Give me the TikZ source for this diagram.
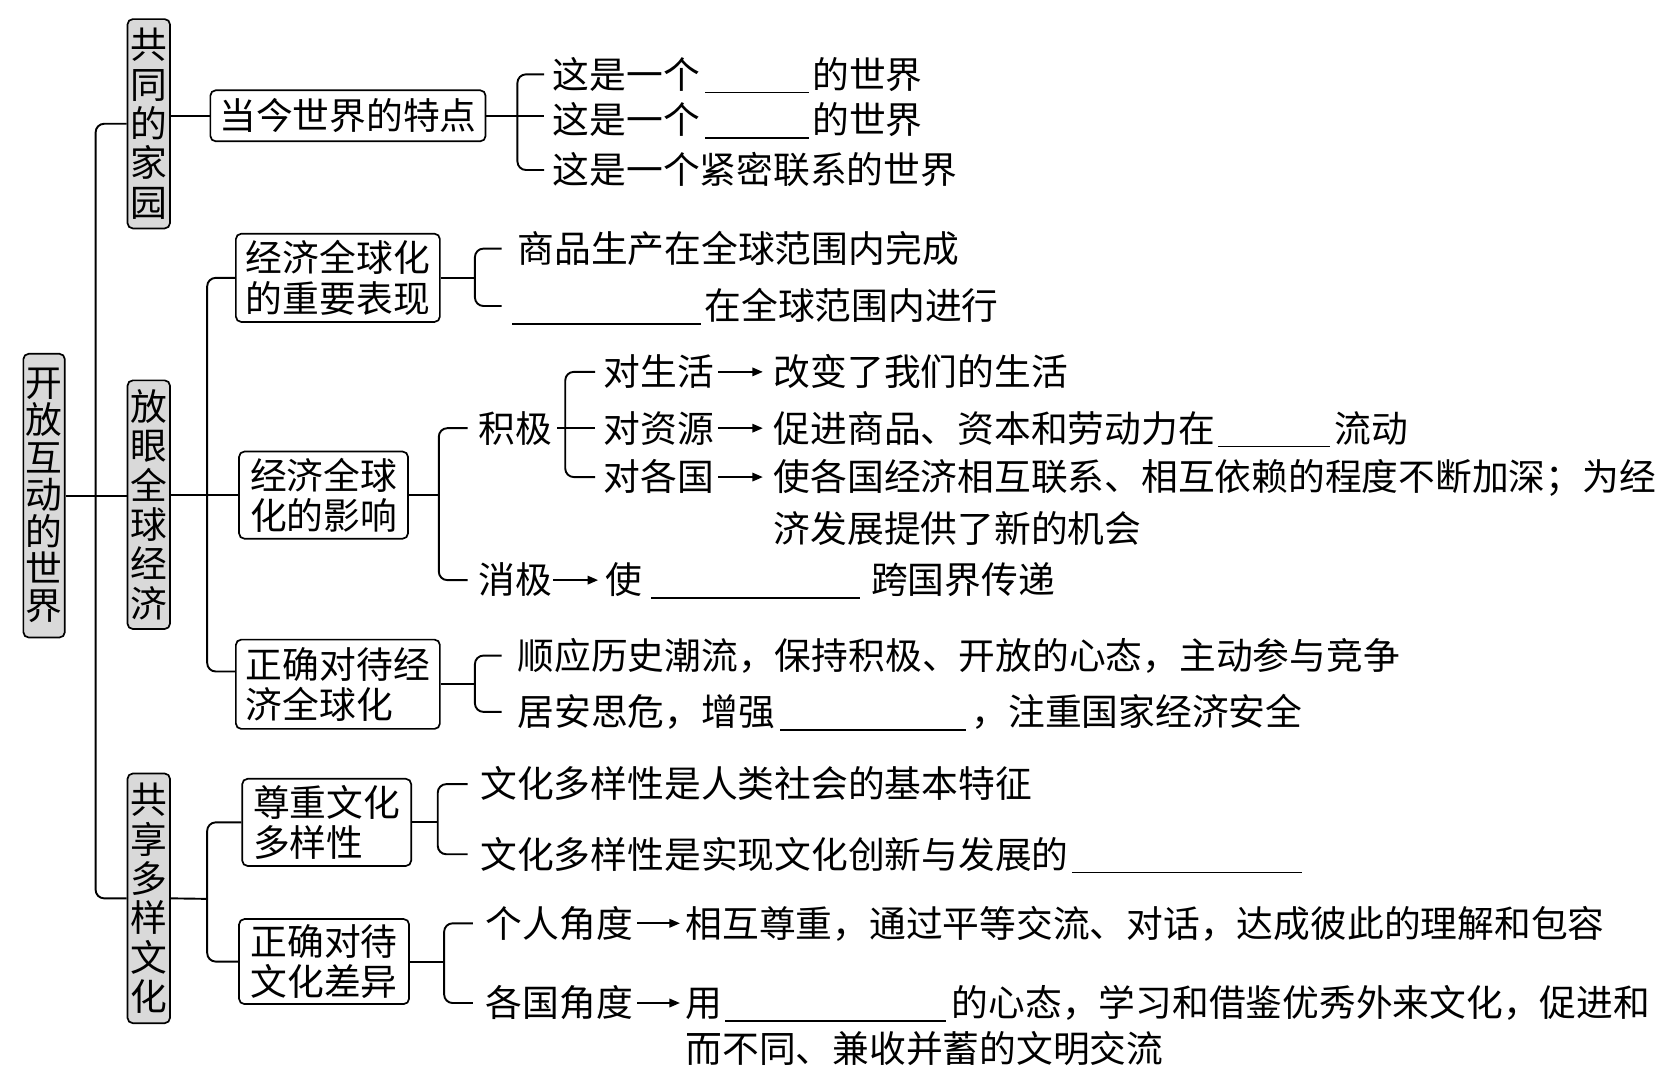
\documentclass[tikz,border=0pt]{standalone}
\usepackage{fontspec}
\setmainfont{Noto Sans CJK SC}
\usetikzlibrary{arrows.meta}
\newcommand\blk[1]{\rule[-5pt]{#1pt}{1.7pt}}
\begin{document}
\begin{tikzpicture}[x=1pt,y=-1pt,
  font=\fontsize{34.6}{38}\selectfont,
  vbox/.style={draw, line width=1.6pt, rounded corners=5pt, fill=gray!30, inner sep=0pt, align=center, font=\fontsize{34.6}{37}\selectfont},
  hbox/.style={draw, line width=1.6pt, rounded corners=5pt, fill=white, inner sep=0pt, align=left},
  txt/.style={inner sep=0pt, anchor=west, text height=28pt, text depth=2pt},
  ln/.style={line width=1.8pt},
  brk/.style={line width=1.8pt, rounded corners=8pt},
  arr/.style={line width=1.8pt, -{Triangle[length=10pt,width=8pt]}}
]
\fill[white] (0,0) rectangle (1568,1008);
\useasboundingbox (0,0) rectangle (1568,1008);

% level 0 and 1
\node[vbox, minimum width=39pt, minimum height=267pt, font=\fontsize{34.6}{35}\selectfont] (root) at (41.5,466.5) {开\\放\\互\\动\\的\\世\\界};
\node[vbox, minimum width=40pt, minimum height=197pt] (v1) at (140,116.5) {共\\同\\的\\家\\园};
\node[vbox, minimum width=40pt, minimum height=234pt] (v2) at (140,475) {放\\眼\\全\\球\\经\\济};
\node[vbox, minimum width=40pt, minimum height=235pt] (v3) at (140,845.5) {共\\享\\多\\样\\文\\化};

% level 2 boxes
\node[hbox, minimum width=259pt, minimum height=48pt] (b11) at (327.5,109) {当今世界的特点};
\node[hbox, minimum width=192pt, minimum height=83pt] (b21) at (318,261.5) {经济全球化\\的重要表现};
\node[hbox, minimum width=159pt, minimum height=82pt] (b22) at (304.5,466) {经济全球\\化的影响};
\node[hbox, minimum width=192pt, minimum height=84pt] (b23) at (318,644) {正确对待经\\济全球化};
\node[hbox, minimum width=159pt, minimum height=82pt] (b31) at (307.5,774) {尊重文化\\多样性};
\node[hbox, minimum width=160pt, minimum height=80pt] (b32) at (305,905) {正确对待\\文化差异};

% trunks
\coordinate (T1) at (90,466);
\draw[brk] (v1.west) -| (T1) |- (v3.west);
\draw[ln] (root.east) -- (v2.west |- root.east);
\draw[ln] (v1.east |- b11.west) -- (b11.west);
\coordinate (T2) at (195,466);
\draw[ln] (v2.east |- b22.west) -- (b22.west);
\draw[brk] (b21.west) -| (T2) |- ([yshift=12pt]b23.west);
\coordinate (T3) at (195,846);
\draw[ln] (v3.east) -- (T3);
\draw[brk] (b31.west) -| (T3) |- (b32.west);

% B1
\node[txt] (t11) at (520,70) {这是一个\hspace{5pt}\blk{98}\hspace{3pt}的世界};
\node[txt] (t12) at (520,113) {这是一个\hspace{5pt}\blk{98}\hspace{3pt}的世界};
\node[txt] (t13) at (520,160) {这是一个紧密联系的世界};
\coordinate (j11) at (487,109);
\draw[ln, shorten >=8pt] (b11.east) -- (b11.east -| t12.west);
\draw[brk, shorten <=8pt, shorten >=8pt] (t11.west) -| (j11) |- (t13.west);

% B2
\node[txt] (t21) at (487,234) {商品生产在全球范围内完成};
\node[txt] (t22) at (482,288) {\blk{178}\hspace{3pt}在全球范围内进行};
\coordinate (j21) at (447,261.5);
\draw[ln] (b21.east) -- (j21);
\draw[brk, shorten <=15pt, shorten >=10pt] (t21.west) -| (j21) |- (t22.west);

% B3
\node[txt] (p1) at (450,403) {积极};
\node[txt] (p2) at (450,546) {消极};
\coordinate (j22) at (413,466);
\draw[ln] (b22.east) -- (j22);
\draw[brk, shorten <=10pt, shorten >=10pt] (p1.west) -| (j22) |- (p2.west);
\node[txt] (q1) at (568,350) {对生活};
\node[txt] (q2) at (568,403) {对资源};
\node[txt] (q3) at (568,449) {对各国};
\coordinate (j3) at (532,403);
\draw[ln, shorten <=5pt, shorten >=8pt] (p1.east) -- (p1.east -| q2.west);
\draw[brk, shorten <=8pt, shorten >=8pt] (q1.west) -| (j3) |- (q3.west);
\node[txt] (r1) at (728,350) {改变了我们的生活};
\node[txt] (r2) at (728,403) {促进商品、资本和劳动力在\hspace{3pt}\blk{105}\hspace{5pt}流动};
\node[txt] (r3) at (728,449) {使各国经济相互联系、相互依赖的程度不断加深；为经};
\node[txt] (r3b) at (728,498) {济发展提供了新的机会};
\draw[arr, shorten <=4pt, shorten >=10pt] (q1.east) -- (r1.west);
\draw[arr, shorten <=4pt, shorten >=10pt] (q2.east) -- (r2.west);
\draw[arr, shorten <=4pt, shorten >=10pt] (q3.east) -- (r3.west);
\node[txt] (s1) at (570,546) {使\hspace{8pt}\blk{197}\hspace{10pt}跨国界传递};
\draw[arr, shorten <=1pt, shorten >=7pt] (p2.east) -- (s1.west);

% B4
\node[txt] (t41) at (487,617) {顺应历史潮流，保持积极、开放的心态，主动参与竞争};
\node[txt] (t42) at (487,670) {居安思危，增强\hspace{5pt}\blk{175}\hspace{5pt}，注重国家经济安全};
\coordinate (j23) at (447,644);
\draw[ln] (b23.east) -- (j23);
\draw[brk, shorten <=15pt, shorten >=15pt] (t41.west) -| (j23) |- (t42.west);

% B5
\node[txt] (t51) at (452,738) {文化多样性是人类社会的基本特征};
\node[txt] (t52) at (452,804) {文化多样性是实现文化创新与发展的\hspace{3pt}\blk{217}};
\coordinate (j31) at (412,774);
\draw[ln] (b31.east) -- (j31);
\draw[brk, shorten <=12pt, shorten >=12pt] (t51.west) -| (j31) |- (t52.west);

% B6
\node[txt] (u1) at (457,869) {个人角度};
\node[txt] (u2) at (457,944) {各国角度};
\coordinate (j32) at (418,905);
\draw[ln] (b32.east) -- (j32);
\draw[brk, shorten <=12pt, shorten >=12pt] (u1.west) -| (j32) |- (u2.west);
\node[txt] (w1) at (645,869) {相互尊重，通过平等交流、对话，达成彼此的理解和包容};
\node[txt] (w2) at (645,944) {用\hspace{3pt}\blk{208}\hspace{5pt}的心态，学习和借鉴优秀外来文化，促进和};
\node[txt] (w2b) at (645,987) {而不同、兼收并蓄的文明交流};
\draw[arr, shorten <=4pt, shorten >=5pt] (u1.east) -- (w1.west);
\draw[arr, shorten <=4pt, shorten >=5pt] (u2.east) -- (w2.west);
\end{tikzpicture}
\end{document}
